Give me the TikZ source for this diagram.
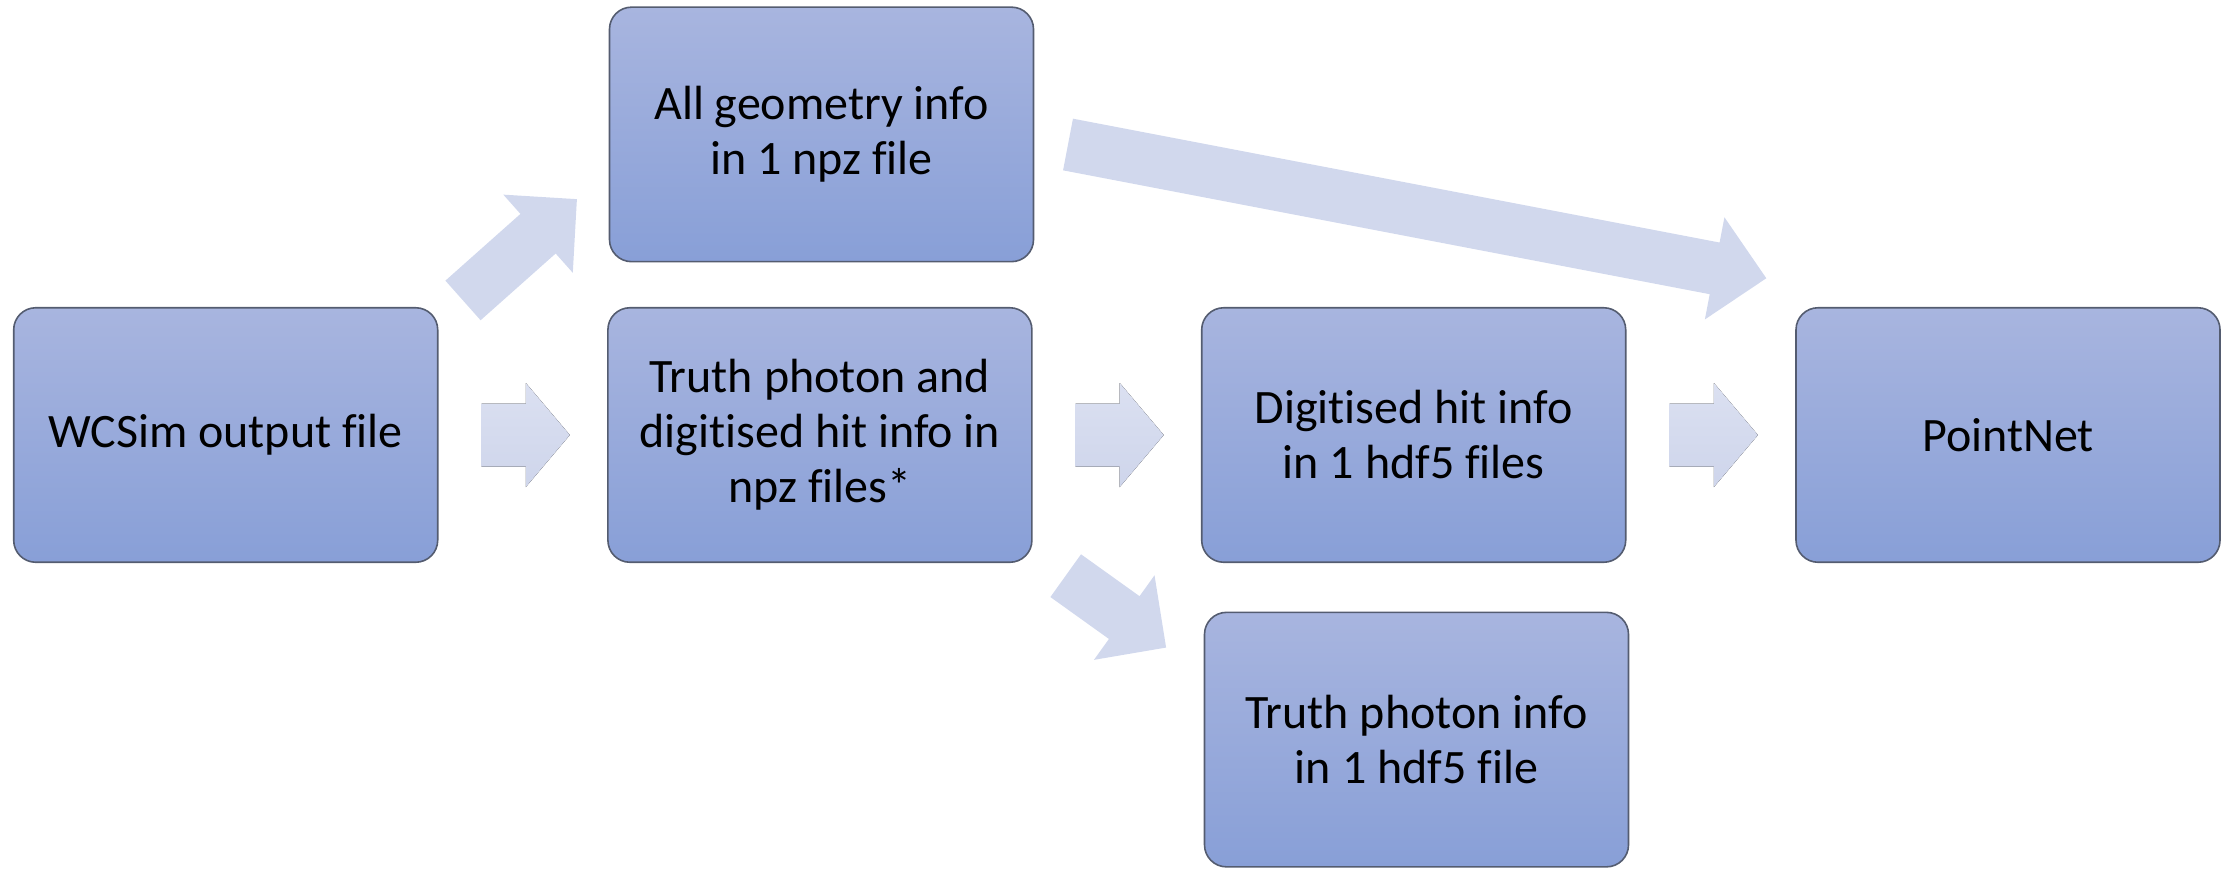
\documentclass[tikz,border=0pt]{standalone}
\usepackage{fontspec}
\setmainfont[Ligatures=NoCommon]{Carlito}
\usetikzlibrary{calc}

\definecolor{boxtop}{RGB}{168,181,223}
\definecolor{boxbot}{RGB}{136,159,215}
\definecolor{boxline}{RGB}{84,92,112}
\definecolor{arrowfill}{RGB}{209,216,237}
\definecolor{arrowtop}{RGB}{219,224,241}
\definecolor{arrowbot}{RGB}{206,213,235}

% Block arrow from a tail point to a tip point:
% #1 fill options, #2 tail, #3 tip, #4 shaft half width, #5 head half width, #6 head length
\newcommand\blockarrow[6][]{%
  \coordinate (ba-base) at ($(#3)!#6!(#2)$);
  \fill[#1] ($(#2)!#4!90:(#3)$) -- ($(ba-base)!#4!90:(#3)$) -- ($(ba-base)!#5!90:(#3)$)
    -- (#3) -- ($(ba-base)!#5!-90:(#3)$) -- ($(ba-base)!#4!-90:(#3)$)
    -- ($(#2)!#4!-90:(#3)$) -- cycle;
}

\begin{document}
\begin{tikzpicture}[x=1pt, y=-1pt,
  stage/.style={draw=boxline, line width=1.6pt, rounded corners=22pt,
    top color=boxtop, bottom color=boxbot,
    minimum width=424pt, minimum height=254.5pt, inner sep=0pt,
    align=center, text=black, font=\fontsize{48}{55}\selectfont},
  flat/.style={fill=arrowfill},
  graded/.style={top color=arrowtop, bottom color=arrowbot}]

\useasboundingbox (0,0) rectangle (2226,868);

% processing stages
\node[stage] (wcsim) at (225.7,435) {WCSim output file};
\node[stage] (geom)  at (821.5,134.4) {All geometry info\\in 1 npz file};
\node[stage] (truth) at (819.9,435) {Truth photon and\\digitised hit info in\\npz files*};
\node[stage] (digit) at (1413.7,435) {Digitised hit info\\in 1 hdf5 files};
\node[stage] (info)  at (1416.5,739.6) {Truth photon info\\in 1 hdf5 file};
\node[stage] (pnet)  at (2008,435) {PointNet};

% arrow end points
\coordinate (a1t) at ($(wcsim.east)!0.255!(truth.west)$);
\coordinate (a1h) at ($(wcsim.east)!0.779!(truth.west)$);
\coordinate (a2t) at ($(truth.east)!0.255!(digit.west)$);
\coordinate (a2h) at ($(truth.east)!0.779!(digit.west)$);
\coordinate (a3t) at ($(digit.east)!0.255!(pnet.west)$);
\coordinate (a3h) at ($(digit.east)!0.779!(pnet.west)$);
\coordinate (a4t) at ($(wcsim.north east)+(24.5,-6.5)$);
\coordinate (a4h) at ($(geom.south west)+(-31.8,-63.3)$);
\coordinate (a5t) at ($(truth.south east)+(33,12.6)$);
\coordinate (a5h) at ($(info.north west)+(-37.6,36)$);
\coordinate (a6t) at ($(geom.east)+(33.7,10.1)$);
\coordinate (a6h) at ($(pnet.north west)+(-28.9,-28.7)$);

% block arrows
\blockarrow[graded]{a1t}{a1h}{31.5pt}{52pt}{44pt}
\blockarrow[graded]{a2t}{a2h}{31.5pt}{52pt}{44pt}
\blockarrow[graded]{a3t}{a3h}{31.5pt}{52pt}{44pt}
\blockarrow[flat]{a4t}{a4h}{26.5pt}{52.3pt}{52pt}
\blockarrow[flat]{a5t}{a5h}{26.3pt}{52pt}{51.5pt}
\blockarrow[flat]{a6t}{a6h}{26.3pt}{52pt}{52.6pt}

\end{tikzpicture}
\end{document}
